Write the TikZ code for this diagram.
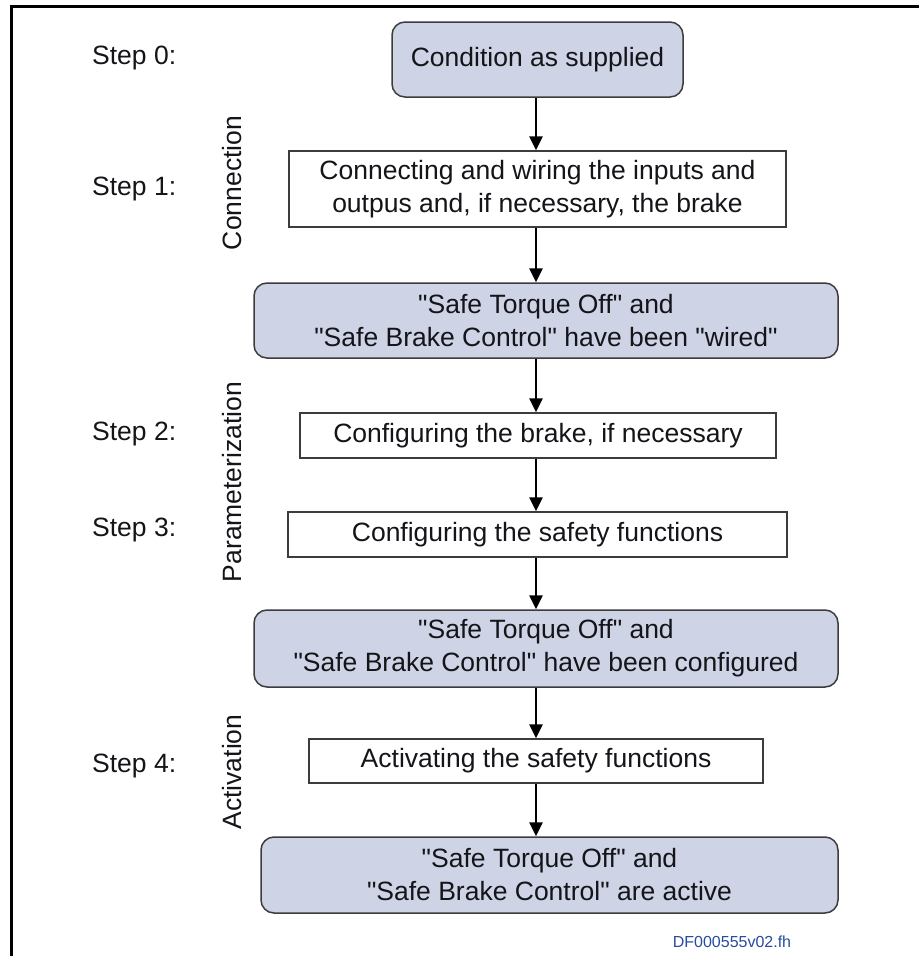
\documentclass[tikz,border=0pt]{standalone}
\usepackage{fontspec}
% no TeX ligature mapping, so " stays a straight double quote
\setmainfont{Liberation Sans}[Ligatures=TeXOff]
\usetikzlibrary{arrows.meta}

\definecolor{boxfill}{RGB}{206,212,230}
\definecolor{edgegray}{RGB}{60,60,60}
\definecolor{txt}{RGB}{20,20,25}
\definecolor{dfblue}{RGB}{40,75,160}

\tikzset{
  base/.style={font=\fontsize{26.5pt}{33pt}\selectfont, text=txt},
  statebox/.style={base, draw=edgegray, line width=1.5pt, fill=boxfill,
    rounded corners=13pt, align=center, inner sep=0pt},
  taskbox/.style={base, draw=edgegray, line width=1.3pt, fill=white,
    align=center, inner sep=0pt},
  steplbl/.style={base, anchor=west, inner sep=0pt},
  phaselbl/.style={base, rotate=90, inner sep=0pt},
  flow/.style={line width=2.6pt, black,
    -{Triangle[length=14pt,width=13pt]}},
}

\begin{document}
\begin{tikzpicture}[x=1pt, y=-1pt]
  \useasboundingbox (0,0) rectangle (919,956);

  % frame: top and left rules
  \draw[line width=3pt, black] (11,956) -- (11,6) -- (919,6);

  % flow boxes
  \node[statebox, minimum width=291pt, minimum height=75pt] (b0) at (537.5,59.5)
    {Condition as supplied};
  \node[taskbox, minimum width=497pt, minimum height=76pt] (b1) at (537.5,189)
    {Connecting and wiring the inputs and\\outpus and, if necessary, the brake};
  \node[statebox, minimum width=584pt, minimum height=75pt] (b2) at (546,320.5)
    {"Safe Torque Off" and\\"Safe Brake Control" have been "wired"};
  \node[taskbox, minimum width=476pt, minimum height=45pt] (b3) at (538,435.5)
    {Configuring the brake, if necessary};
  \node[taskbox, minimum width=499pt, minimum height=45pt] (b4) at (537.5,534.5)
    {Configuring the safety functions};
  \node[statebox, minimum width=584pt, minimum height=77pt] (b5) at (546,648.5)
    {"Safe Torque Off" and\\"Safe Brake Control" have been configured};
  \node[taskbox, minimum width=454pt, minimum height=44pt] (b6) at (536,761)
    {Activating the safety functions};
  \node[statebox, minimum width=577pt, minimum height=76pt] (b7) at (549.5,875)
    {"Safe Torque Off" and\\"Safe Brake Control" are active};

  % vertical axis of the connectors
  \coordinate (ax) at (536,0);
  \draw[flow] (ax |- b0.south) -- (ax |- b1.north);
  \draw[flow] (ax |- b1.south) -- (ax |- b2.north);
  \draw[flow] (ax |- b2.south) -- (ax |- b3.north);
  \draw[flow] (ax |- b3.south) -- (ax |- b4.north);
  \draw[flow] (ax |- b4.south) -- (ax |- b5.north);
  \draw[flow] (ax |- b5.south) -- (ax |- b6.north);
  \draw[flow] (ax |- b6.south) -- (ax |- b7.north);

  % step labels
  \node[steplbl] (s0) at (92,58) {Step 0:};
  \node[steplbl] (s1) at (92,189) {Step 1:};
  \node[steplbl] (s2) at (92,434) {Step 2:};
  \node[steplbl] (s3) at (92,530) {Step 3:};
  \node[steplbl] (s4) at (92,766) {Step 4:};

  % phase labels
  \node[phaselbl] (p1) at (232,183) {Connection};
  \node[phaselbl] (p2) at (232,482) {Parameterization};
  \node[phaselbl] (p3) at (232,772) {Activation};

  % drawing number
  \node[font=\fontsize{16pt}{18pt}\selectfont, text=dfblue, inner sep=0pt] (df)
    at (732,942) {DF000555v02.fh};
\end{tikzpicture}
\end{document}
